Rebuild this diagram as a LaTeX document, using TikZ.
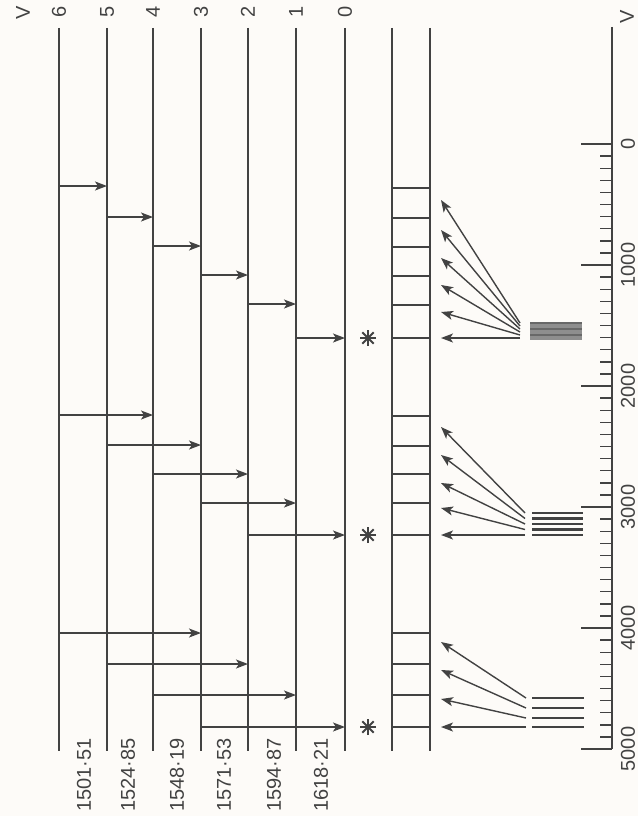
\documentclass[tikz,border=0pt]{standalone}
\usepackage{fontspec}
\setmainfont{Liberation Sans}
\usetikzlibrary{arrows.meta}
\definecolor{ink}{RGB}{66,66,66}
\definecolor{paper}{RGB}{253,251,248}
\begin{document}
\begin{tikzpicture}[x=1pt,y=-1pt,line width=1.4pt,color=ink,
  arr/.style={-{Stealth[length=12pt,width=9pt,inset=3pt]}},
  lbl/.style={text=ink,rotate=90,inner sep=0pt,font=\fontsize{20}{20}\selectfont},
  num/.style={text=ink,rotate=90,inner sep=0pt,font=\fontsize{20}{20}\selectfont},
  star/.style={line width=1.8pt}]
\fill[paper] (0,0) rectangle (638,816);
\useasboundingbox (0,0) rectangle (638,816);
% level lines
\foreach \v/\x in {6/59,5/107,4/153,3/201,2/248,1/296,0/345}{
  \coordinate (L\v) at (\x,0);
  \draw (\x,28) -- (\x,751);
  \node[num] (n\v) at (\x,12) {\v};
}
\node[num] (vleft) at (23,13) {V};
% band lines
\coordinate (B1) at (392,0);
\coordinate (B2) at (430,0);
\draw (B1 |- 0,28) -- (B1 |- 0,751);
\draw (B2 |- 0,28) -- (B2 |- 0,751);
% rungs
\foreach \y in {188,218,247,276,305,338,416,446,474,503,535,633,664,695,727}
  \draw (B1 |- 0,\y) -- (B2 |- 0,\y);
% level transition arrows
\foreach \a/\b/\y in {6/5/186,5/4/217,4/3/246,3/2/275,2/1/304,1/0/338,
                      6/4/415,5/3/445,4/2/474,3/1/503,2/0/535,
                      6/3/633,5/2/664,4/1/695,3/0/727}
  \draw[arr] (L\a |- 0,\y) -- (L\b |- 0,\y);
% asterisks
\foreach \y [count=\i] in {338,535,727}{
  \coordinate (s\i) at (368,\y);
  \foreach \ang in {0,45,90,135}
    \draw[star] (s\i) ++(\ang:8) -- ++(\ang+180:16);
}
% fans
\foreach \sy/\ty in {323/200,326/230,329/258,332/285,335/312,338/338}
  \draw[arr] (520,\sy) -- (441,\ty);
\foreach \sy/\ty in {513/427,518.5/455,524/483,529.5/508,535/535}
  \draw[arr] (525,\sy) -- (441,\ty);
\foreach \sy/\ty in {698/642,708/670,718/699,727/727}
  \draw[arr] (526,\sy) -- (441,\ty);
% spectral bars
\fill[ink!60] (530,321.5) rectangle (582,339.5);
\foreach \y in {323,329,335}
  \draw[line width=1.6pt,color=ink!80] (530,\y) -- (582,\y);
\foreach \y in {513,518.5,524,529.5,535}
  \draw[line width=2.2pt] (532,\y) -- (583,\y);
\foreach \y in {698,708,718,727}
  \draw[line width=1.9pt] (532,\y) -- (584,\y);
% labels between levels
\foreach \x/\t [count=\i] in {84/1501·51,128/1524·85,177/1548·19,224/1571·53,274/1594·87,321/1618·21}
  \node[lbl] (d\i) at (\x,775) {\t};
% scale
\draw (612,27) -- (612,749);
\foreach \i in {1,...,49}
  \draw (600,{144+12.1*\i}) -- (612,{144+12.1*\i});
\foreach \i in {0,...,5}{
  \draw (581,{144+121*\i}) -- (612,{144+121*\i});
}
\foreach \i/\t in {0/0,1/1000,2/2000,3/3000,4/4000,5/5000}
  \node[num] (sc\i) at (628,{144+121*\i}) {\t};
\node[num] (vright) at (627,17) {V};
\end{tikzpicture}
\end{document}
